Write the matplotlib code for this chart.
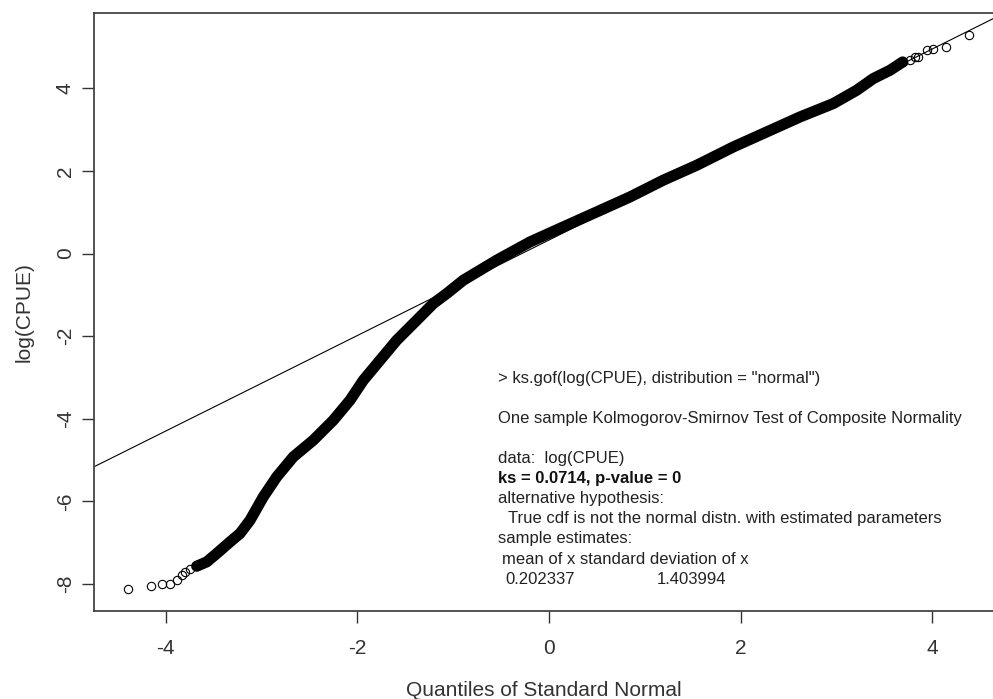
import numpy as np
import matplotlib
matplotlib.use("Agg")
import matplotlib.pyplot as plt

plt.rcParams["font.family"] = ["Liberation Sans", "DejaVu Sans"]
plt.rcParams["axes.unicode_minus"] = False

# quantiles of standard normal vs log(CPUE)
# dense middle part (drawn as a thick band of overlapping circles)
band_x = [-3.676, -3.571, -3.467, -3.328, -3.224, -3.119, -2.981, -2.841,
          -2.668, -2.459, -2.250, -2.076, -1.937, -1.763, -1.589, -1.380,
          -1.207, -1.067, -0.894, -0.546, -0.198, 0.149, 0.498, 0.845,
          1.192, 1.541, 1.923, 2.271, 2.619, 2.966, 3.210, 3.383, 3.558, 3.690]
band_y = [-7.566, -7.462, -7.259, -6.978, -6.775, -6.453, -5.889, -5.405,
          -4.921, -4.517, -4.033, -3.549, -3.066, -2.582, -2.098, -1.614,
          -1.210, -0.968, -0.646, -0.162, 0.281, 0.644, 1.007, 1.369,
          1.774, 2.136, 2.579, 2.942, 3.305, 3.629, 3.951, 4.234, 4.435, 4.636]

# sparse tail points
low_x = [-4.392, -4.152, -4.034, -3.951, -3.884, -3.832, -3.798, -3.745, -3.676]
low_y = [-8.106, -8.050, -7.994, -7.994, -7.888, -7.784, -7.704, -7.622, -7.566]
high_x = [3.690, 3.766, 3.818, 3.853, 3.940, 4.009, 4.142, 4.385]
high_y = [4.636, 4.677, 4.757, 4.757, 4.919, 4.960, 4.999, 5.282]

# reference line (intercept, slope)
line_a = 0.327
line_b = 1.156

xticks = [-4, -2, 0, 2, 4]
yticks = [-8, -6, -4, -2, 0, 2, 4]

fig = plt.figure(figsize=(9.93, 6.99), dpi=100)
W, H = 993, 699
ax = fig.add_axes([94 / W, (H - 611) / H, (993 - 94) / W, (611 - 13) / H])

ax.plot(band_x, band_y, color="black", lw=8, solid_capstyle="round",
        solid_joinstyle="round", zorder=3)
ax.plot(low_x, low_y, "o", mfc="none", mec="black", ms=6, mew=0.8, zorder=3)
ax.plot(high_x, high_y, "o", mfc="none", mec="black", ms=6, mew=0.8, zorder=3)
ax.axline((0, line_a), slope=line_b, color="black", lw=0.8, zorder=2)

ax.set_xlim(-4.747, 4.632)
ax.set_ylim(-8.65, 5.82)
ax.set_xticks(xticks)
ax.set_yticks(yticks)
ax.set_yticklabels([str(v) for v in yticks], rotation=90, va="center")
ax.tick_params(axis="both", labelsize=15, length=8.8, width=1.0, color="#333333",
               labelcolor="#333333", direction="out")
ax.tick_params(axis="x", pad=11)
ax.tick_params(axis="y", pad=5)
for s in ["left", "bottom", "top"]:
    ax.spines[s].set_color("#444444")
    ax.spines[s].set_linewidth(1.3)
ax.spines["right"].set_visible(False)

ax.set_xlabel("Quantiles of Standard Normal", fontsize=15, color="#333333", labelpad=17)
ax.set_ylabel("log(CPUE)", fontsize=15, color="#333333", labelpad=16)


# test output text, placed in pixels
def put(px, py, s, bold=False):
    fig.text(px / W, 1 - py / H, s, fontsize=12, va="center", ha="left",
             color="#111111" if bold else "#222222",
             fontweight="bold" if bold else "normal")


put(498, 379, '> ks.gof(log(CPUE), distribution = "normal")')
put(498, 419, "One sample Kolmogorov-Smirnov Test of Composite Normality")
put(498, 459, "data:  log(CPUE)")
put(498, 479, "ks = 0.0714, p-value = 0", bold=True)
put(498, 499, "alternative hypothesis:")
put(508, 519, "True cdf is not the normal distn. with estimated parameters")
put(498, 539, "sample estimates:")
put(502, 559, "mean of x standard deviation of x")
put(505, 579, "0.202337")
put(657, 579, "1.403994")

fig.savefig("out.png", dpi=100)
